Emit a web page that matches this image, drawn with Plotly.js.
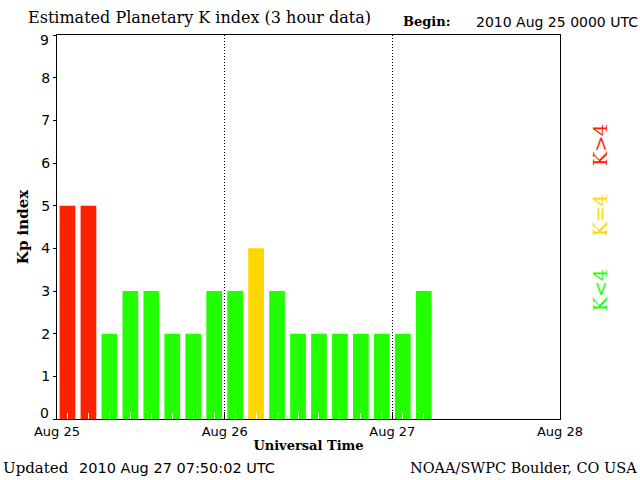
<!DOCTYPE html>
<html>
<head>
<meta charset="utf-8">
<script src="https://cdn.plot.ly/plotly-3.0.1.min.js"></script>
<style>html,body{margin:0;padding:0;background:#fff}#chart{width:640px;height:480px}</style>
</head>
<body>
<div id="chart"></div>
<script>
// 3-hour interval start times (UTC)
var times = [
  "2010-08-25 00:00","2010-08-25 03:00","2010-08-25 06:00","2010-08-25 09:00",
  "2010-08-25 12:00","2010-08-25 15:00","2010-08-25 18:00","2010-08-25 21:00",
  "2010-08-26 00:00","2010-08-26 03:00","2010-08-26 06:00","2010-08-26 09:00",
  "2010-08-26 12:00","2010-08-26 15:00","2010-08-26 18:00","2010-08-26 21:00",
  "2010-08-27 00:00","2010-08-27 03:00"
];
var kp = [5,5,2,3,3,2,2,3,3,4,3,2,2,2,2,2,2,3];
var dayTicks = ["2010-08-25","2010-08-26","2010-08-27","2010-08-28"];
var dayLabels = ["Aug 25","Aug 26","Aug 27","Aug 28"];
var yTicks = [0,1,2,3,4,5,6,7,8,9];
var yLabels = ["","1","2","3","4","5","6","7","8",""];

var RED = "rgb(255,34,0)", YEL = "rgb(255,215,0)", GRN = "rgb(34,255,0)";
var colors = kp.map(function(v){ return v > 4 ? RED : (v === 4 ? YEL : GRN); });
var period = 3*3600*1000;

var trace = {
  type: "bar", x: times, y: kp,
  xperiod: period, xperiodalignment: "middle",
  width: period*0.75,
  marker: {color: colors, line: {width: 0}},
  hoverinfo: "skip"
};

var serif = "DejaVu Serif";
var sans = "DejaVu Sans";

var layout = {
  width: 640, height: 480,
  margin: {l: 57, r: 80, t: 35, b: 61},
  paper_bgcolor: "#fff", plot_bgcolor: "#fff",
  showlegend: false,
  xaxis: {
    type: "date", range: ["2010-08-25", "2010-08-28"],
    tickmode: "array", tickvals: dayTicks, ticktext: dayLabels,
    ticks: "inside", ticklen: 7, tickcolor: "#000", tickwidth: 1,
    showgrid: true, gridcolor: "#000", griddash: "1px,2px", gridwidth: 1,
    showline: true, linecolor: "#000", linewidth: 1, mirror: true,
    zeroline: false,
    tickfont: {family: sans, size: 13, color: "#000"},
    minor: {tickmode: "linear", tick0: "2010-08-25 01:30", dtick: period,
            ticks: "inside", ticklen: 6, tickcolor: "#fff", tickwidth: 1, showgrid: false},
    title: {text: "<b>Universal Time</b>", font: {family: serif, size: 13, color: "#000"}, standoff: 3}
  },
  yaxis: {
    range: [0, 9], tickmode: "array", tickvals: yTicks, ticktext: yLabels,
    ticks: "outside", ticklen: 3, tickcolor: "#000",
    ticklabelstandoff: 0,
    showgrid: false, zeroline: false,
    showline: true, linecolor: "#000", linewidth: 1, mirror: true,
    tickfont: {family: sans, size: 14, color: "#000"},
    title: {text: "<b>Kp index</b>", font: {family: serif, size: 15, color: "#000"}, standoff: 9}
  },
  annotations: [
    {xref: "paper", yref: "paper", x: -0.012, y: 0.016, xanchor: "right", yanchor: "middle", showarrow: false,
     text: "0", font: {family: sans, size: 14, color: "#000"}},
    {xref: "paper", yref: "paper", x: -0.012, y: 0.987, xanchor: "right", yanchor: "middle", showarrow: false,
     text: "9", font: {family: sans, size: 14, color: "#000"}},
    {xref: "paper", yref: "paper", x: -0.062, y: 1.045, xanchor: "left", yanchor: "middle", showarrow: false,
     text: "Estimated Planetary K index (3 hour data)", font: {family: serif, size: 16, color: "#000"}},
    {xref: "paper", yref: "paper", x: 0.683, y: 1.034, xanchor: "left", yanchor: "middle", showarrow: false,
     text: "<b>Begin:</b>", font: {family: serif, size: 13, color: "#000"}},
    {xref: "paper", yref: "paper", x: 1.16, y: 1.034, xanchor: "right", yanchor: "middle", showarrow: false,
     text: "2010 Aug 25 0000 UTC", font: {family: sans, size: 14, color: "#000"}},
    {xref: "paper", yref: "paper", x: -0.111, y: -0.128, xanchor: "left", yanchor: "middle", showarrow: false,
     text: "Updated", font: {family: serif, size: 15, color: "#000"}},
    {xref: "paper", yref: "paper", x: 0.04, y: -0.128, xanchor: "left", yanchor: "middle", showarrow: false,
     text: "2010 Aug 27 07:50:02 UTC", font: {family: sans, size: 14.5, color: "#000"}},
    {xref: "paper", yref: "paper", x: 1.157, y: -0.128, xanchor: "right", yanchor: "middle", showarrow: false,
     text: "NOAA/SWPC Boulder, CO USA", font: {family: serif, size: 14.5, color: "#000"}},
    {xref: "paper", yref: "paper", x: 1.08, y: 0.714, xanchor: "center", yanchor: "middle", showarrow: false, textangle: -90,
     text: "K&gt;4", font: {family: serif, size: 19, color: RED}},
    {xref: "paper", yref: "paper", x: 1.08, y: 0.531, xanchor: "center", yanchor: "middle", showarrow: false, textangle: -90,
     text: "K=4", font: {family: serif, size: 19, color: YEL}},
    {xref: "paper", yref: "paper", x: 1.08, y: 0.336, xanchor: "center", yanchor: "middle", showarrow: false, textangle: -90,
     text: "K&lt;4", font: {family: serif, size: 19, color: GRN}}
  ]
};

Plotly.newPlot("chart", [trace], layout, {staticPlot: true, displayModeBar: false});
</script>
</body>
</html>
